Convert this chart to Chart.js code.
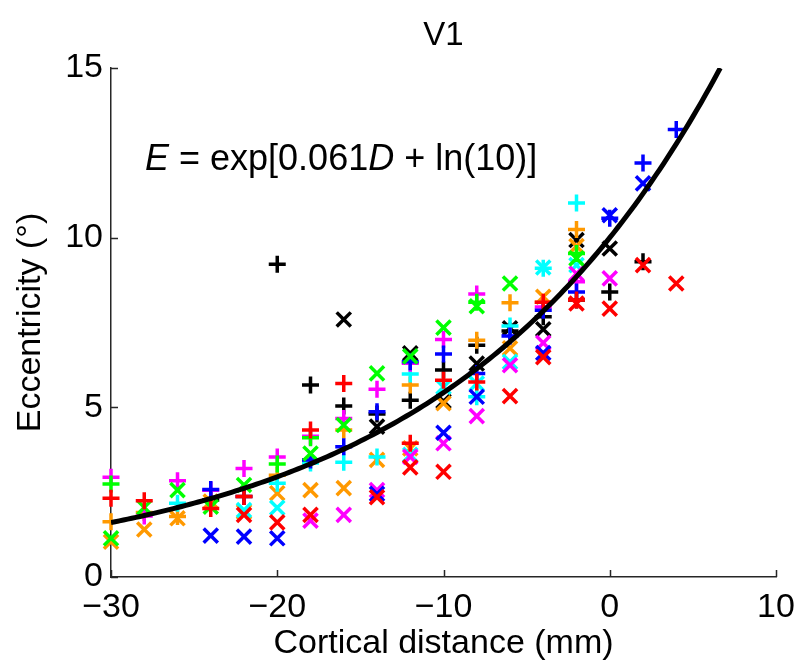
<!DOCTYPE html>
<html>
<head>
<meta charset="utf-8">
<script src="https://cdn.jsdelivr.net/npm/chart.js@4/dist/chart.umd.min.js"></script>
<style>
  html, body { margin: 0; padding: 0; background: #fff; }
  #wrap { width: 798px; height: 670px; }
</style>
</head>
<body>
<div id="wrap"><canvas id="c" width="798" height="670"></canvas></div>
<script>
// Cortical distance (mm) of each sampled position
const distance = [-30, -28, -26, -24, -22, -20, -18, -16, -14, -12, -10, -8, -6, -4, -2, 0, 2, 4];

// Eccentricity (deg) per hemisphere, "+" and "x" markers
const redPlus      = [2.32, 2.25, null, 2.02, 2.37, null, 4.33, 5.70, null, 3.94, 5.80, 5.75, null, 8.10, 8.16, null, null, null];
const redCross     = [null, null, null, null, 1.83, 1.61, 1.83, null, 2.35, 3.23, 3.10, null, 5.33, 6.48, 8.06, 7.91, 9.19, 8.65];
const greenPlus    = [2.74, null, null, null, null, 3.33, 4.10, null, null, null, null, 8.10, null, null, 9.53, null, null, null];
const greenCross   = [1.14, 2.05, 2.56, 2.07, 2.71, null, 3.64, 4.48, 6.00, 6.50, 7.35, 7.98, 8.65, null, 9.39, null, null, null];
const bluePlus     = [null, null, null, 2.58, 2.37, null, 3.45, 3.84, 4.87, 6.34, 6.57, 6.00, 7.10, 7.86, 8.40, 10.57, 12.20, 13.19];
const blueCross    = [null, null, null, 1.22, 1.19, 1.14, null, null, 2.45, null, 4.25, 5.31, null, 6.60, null, 10.66, 11.60, null];
const magentaPlus  = [2.94, 1.80, 2.84, 2.56, 3.20, 3.54, 4.15, 4.67, 5.53, 6.30, 7.00, 8.34, null, 7.96, 8.70, null, null, null];
const magentaCross = [null, null, null, null, null, null, 1.66, 1.83, 2.56, 3.54, 3.94, 4.74, 6.24, 6.90, 8.94, 8.80, null, null];
const cyanPlus     = [null, null, 2.17, null, null, 2.76, 3.36, 3.38, 3.54, 5.98, null, 5.31, 7.40, 9.10, 11.02, null, null, null];
const cyanCross    = [null, null, null, null, 1.97, 2.04, null, null, null, 3.60, 5.60, 5.70, 6.34, 9.12, 9.19, null, null, null];
const orangePlus   = [1.63, 1.90, 1.78, null, 2.37, 3.00, 3.45, 4.33, null, 5.66, null, 6.98, 8.08, 8.10, 10.24, null, null, null];
const orangeCross  = [1.04, 1.40, 1.73, 2.22, 1.92, 2.47, 2.56, 2.62, 3.45, 3.79, 5.12, null, 6.74, 8.26, 9.75, null, null, null];
const blackPlus    = [null, null, null, 2.27, null, 9.22, 5.66, 5.04, 4.80, 5.21, 6.10, 6.83, 7.25, 7.67, 8.16, 8.40, 9.29, null];
const blackCross   = [null, null, null, null, null, null, null, 7.59, 4.43, 6.59, 5.18, 6.29, 7.33, 7.30, 9.93, 9.68, null, null];

// Fitted model E = exp[a*D + ln(b)]
const fitSlope = 0.061;
const fitScale = 10;

const xTicks = [-30, -20, -10, 0, 10];
const yTicks = [0, 5, 10, 15];

const X_MIN = -30, X_MAX = 10, Y_MIN = 0, Y_MAX = 15;

// Fit curve sampled across the axis range, ending where it meets the top
const fitEnd = Math.log(Y_MAX / fitScale) / fitSlope;
const fitPoints = [];
for (let d = X_MIN; d < fitEnd; d += 0.25) {
  fitPoints.push({ x: d, y: Math.exp(fitSlope * d + Math.log(fitScale)) });
}
fitPoints.push({ x: fitEnd, y: Y_MAX });

const series = [
  ['#ff0000', redPlus, redCross],
  ['#00ff00', greenPlus, greenCross],
  ['#0000ff', bluePlus, blueCross],
  ['#ff00ff', magentaPlus, magentaCross],
  ['#00ffff', cyanPlus, cyanCross],
  ['#ff9900', orangePlus, orangeCross],
  ['#000000', blackPlus, blackCross]
];

function toPoints(vals) {
  const pts = [];
  vals.forEach((v, i) => { if (v !== null) pts.push({ x: distance[i], y: v }); });
  return pts;
}

const datasets = [{
  label: 'fit',
  data: fitPoints,
  showLine: true,
  borderColor: '#000',
  borderWidth: 5,
  pointRadius: 0,
  tension: 0,
  order: 0
}];
series.forEach(([color, plus, cross]) => {
  datasets.push({
    data: toPoints(plus), pointStyle: 'cross', pointRadius: 8.5, clip: false,
    borderColor: color, backgroundColor: color, pointBorderWidth: 3.5, showLine: false, order: 1
  });
  datasets.push({
    data: toPoints(cross), pointStyle: 'crossRot', pointRadius: 10, clip: false,
    borderColor: color, backgroundColor: color, pointBorderWidth: 3.5, showLine: false, order: 1
  });
});

const FONT = 'Liberation Sans, Arial, Helvetica, sans-serif';

// Inward tick marks on the left and bottom axes
const inwardTicks = {
  id: 'inwardTicks',
  afterDatasetsDraw(chart) {
    const { ctx, chartArea: a, scales: { x, y } } = chart;
    ctx.save();
    ctx.strokeStyle = '#262626';
    ctx.lineWidth = 1.5;
    ctx.beginPath();
    xTicks.forEach(v => {
      const px = Math.round(x.getPixelForValue(v)) + 0.5;
      ctx.moveTo(px, a.bottom); ctx.lineTo(px, a.bottom - 7);
    });
    yTicks.forEach(v => {
      const py = Math.round(y.getPixelForValue(v)) + 0.5;
      ctx.moveTo(a.left, py); ctx.lineTo(a.left + 7, py);
    });
    ctx.stroke();
    ctx.restore();
  }
};

// Panel title over the plot area, and the fitted equation with italic variables
const annotations = {
  id: 'annotations',
  afterDraw(chart) {
    const { ctx, chartArea: a } = chart;
    ctx.save();
    ctx.fillStyle = '#000';

    ctx.font = '33px ' + FONT;
    ctx.textAlign = 'center';
    ctx.textBaseline = 'middle';
    ctx.fillText('V1', (a.left + a.right) / 2, 36);

    const parts = [
      ['E', true], [' = exp[0.061', false], ['D', true], [' + ln(10)]', false]
    ];
    ctx.textAlign = 'left';
    ctx.textBaseline = 'alphabetic';
    let px = 145;
    const py = 170;
    parts.forEach(([t, it]) => {
      ctx.font = (it ? 'italic ' : '') + '36px ' + FONT;
      ctx.fillText(t, px, py);
      px += ctx.measureText(t).width;
    });
    ctx.restore();
  }
};

const minus = v => String(v).replace('-', '\u2212');

new Chart(document.getElementById('c'), {
  type: 'scatter',
  data: { datasets },
  options: {
    responsive: false,
    animation: false,
    events: [],
    layout: { padding: { left: 0, right: 22, top: 68, bottom: 0 } },
    plugins: {
      legend: { display: false },
      tooltip: { enabled: false },
      title: { display: false }
    },
    scales: {
      x: {
        type: 'linear',
        min: X_MIN, max: X_MAX,
        afterBuildTicks: s => { s.ticks = xTicks.map(v => ({ value: v })); },
        afterFit: s => { s.height = 93; s.paddingLeft = 0; s.paddingRight = 0; },
        grid: { display: true, drawOnChartArea: false, drawTicks: false },
        border: { display: true, color: '#262626', width: 1.5 },
        ticks: {
          color: '#000', padding: 10, maxRotation: 0,
          font: { family: FONT, size: 34 },
          callback: v => minus(v)
        },
        title: {
          display: true, text: 'Cortical distance (mm)', color: '#000',
          font: { family: FONT, size: 34, lineHeight: 1.2 },
          padding: { top: 0, bottom: 6 }
        }
      },
      y: {
        type: 'linear',
        min: Y_MIN, max: Y_MAX,
        afterBuildTicks: s => { s.ticks = yTicks.map(v => ({ value: v })); },
        afterFit: s => { s.width = 111; s.paddingTop = 0; s.paddingBottom = 0; },
        grid: { display: true, drawOnChartArea: false, drawTicks: false },
        border: { display: true, color: '#262626', width: 1.5 },
        ticks: {
          color: '#000', padding: 8,
          font: { family: FONT, size: 34 },
          callback: v => minus(v)
        },
        title: {
          display: true, text: 'Eccentricity (\u00b0)', color: '#000',
          font: { family: FONT, size: 34, lineHeight: 1.2 },
          padding: { top: 10, bottom: 0 }
        }
      }
    }
  },
  plugins: [inwardTicks, annotations]
});
</script>
</body>
</html>
